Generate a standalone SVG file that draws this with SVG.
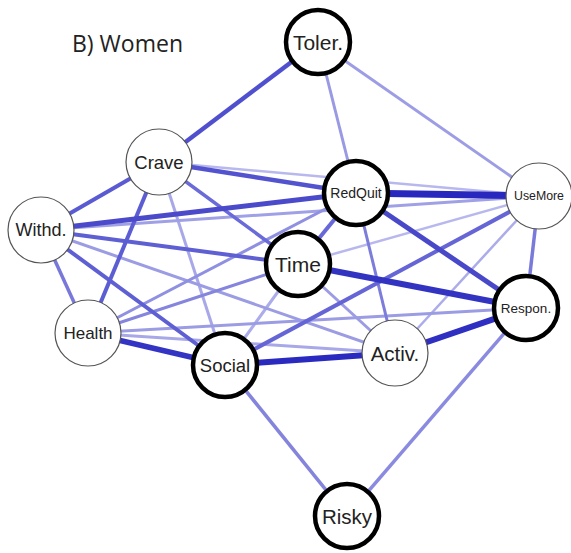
<svg xmlns="http://www.w3.org/2000/svg" width="571" height="553" viewBox="0 0 571 553">
<style>
.e{fill:none;stroke-linecap:butt}
.n1{fill:#fff;stroke:#000;stroke-width:4.5}
.n2{fill:#fff;stroke:#555;stroke-width:1.2}
.t{font-family:"Liberation Sans",Arial,sans-serif;fill:#222;text-anchor:middle;dominant-baseline:central}
.title{font-family:"Open Sans","Liberation Sans",sans-serif;font-size:23px;fill:#222}
</style>
<rect width="571" height="553" fill="#fff"/>
<text class="title" x="72" y="52">B) Women</text>
<g id="connectors">
<line class="e" x1="159" y1="162" x2="539" y2="196" stroke="#b8b8ee" stroke-width="2.5"/>
<line class="e" x1="298" y1="264" x2="539" y2="196" stroke="#b8b8ee" stroke-width="2.5"/>
<line class="e" x1="539" y1="196" x2="395" y2="353" stroke="#acacea" stroke-width="2.5"/>
<line class="e" x1="225" y1="365" x2="298" y2="264" stroke="#acacea" stroke-width="3"/>
<line class="e" x1="88" y1="333" x2="395" y2="353" stroke="#a8a8e8" stroke-width="3"/>
<line class="e" x1="159" y1="162" x2="225" y2="365" stroke="#a8a8e8" stroke-width="3"/>
<line class="e" x1="41" y1="230" x2="539" y2="196" stroke="#a0a0e6" stroke-width="3"/>
<line class="e" x1="41" y1="230" x2="395" y2="353" stroke="#9c9ce4" stroke-width="3"/>
<line class="e" x1="88" y1="333" x2="526" y2="308" stroke="#9c9ce4" stroke-width="3"/>
<line class="e" x1="298" y1="264" x2="395" y2="353" stroke="#9c9ce4" stroke-width="3"/>
<line class="e" x1="318" y1="42" x2="356" y2="193" stroke="#9a9ae4" stroke-width="3"/>
<line class="e" x1="318" y1="42" x2="539" y2="196" stroke="#9d9de5" stroke-width="3"/>
<line class="e" x1="88" y1="333" x2="356" y2="193" stroke="#9090e2" stroke-width="3"/>
<line class="e" x1="88" y1="333" x2="298" y2="264" stroke="#8585de" stroke-width="3"/>
<line class="e" x1="356" y1="193" x2="395" y2="353" stroke="#7c7cdb" stroke-width="3"/>
<line class="e" x1="225" y1="365" x2="347" y2="516" stroke="#8484dd" stroke-width="3.5"/>
<line class="e" x1="526" y1="308" x2="347" y2="516" stroke="#8a8ae0" stroke-width="3.5"/>
<line class="e" x1="539" y1="196" x2="526" y2="308" stroke="#7a7ada" stroke-width="3.5"/>
<line class="e" x1="41" y1="230" x2="88" y2="333" stroke="#7878da" stroke-width="3.5"/>
<line class="e" x1="159" y1="162" x2="298" y2="264" stroke="#6a6ad8" stroke-width="3.5"/>
<line class="e" x1="298" y1="264" x2="356" y2="193" stroke="#6868d8" stroke-width="4"/>
<line class="e" x1="225" y1="365" x2="539" y2="196" stroke="#6565d6" stroke-width="4"/>
<line class="e" x1="41" y1="230" x2="298" y2="264" stroke="#5f5fd4" stroke-width="4"/>
<line class="e" x1="41" y1="230" x2="225" y2="365" stroke="#5f5fd4" stroke-width="4"/>
<line class="e" x1="159" y1="162" x2="88" y2="333" stroke="#5c5cd3" stroke-width="4"/>
<line class="e" x1="159" y1="162" x2="41" y2="230" stroke="#5a5ad3" stroke-width="4"/>
<line class="e" x1="318" y1="42" x2="159" y2="162" stroke="#5050cf" stroke-width="4.5"/>
<line class="e" x1="159" y1="162" x2="356" y2="193" stroke="#5353cf" stroke-width="4.5"/>
<line class="e" x1="41" y1="230" x2="356" y2="193" stroke="#4a4acb" stroke-width="5"/>
<line class="e" x1="356" y1="193" x2="526" y2="308" stroke="#4848c8" stroke-width="5"/>
<line class="e" x1="88" y1="333" x2="225" y2="365" stroke="#3434c4" stroke-width="5.5"/>
<line class="e" x1="395" y1="353" x2="526" y2="308" stroke="#2f2fc2" stroke-width="6"/>
<line class="e" x1="225" y1="365" x2="395" y2="353" stroke="#2a2ac0" stroke-width="6"/>
<line class="e" x1="298" y1="264" x2="526" y2="308" stroke="#3333c2" stroke-width="6"/>
<line class="e" x1="356" y1="193" x2="539" y2="196" stroke="#2828bf" stroke-width="7"/>
</g>
<g id="Toler"><circle class="n1" cx="318" cy="42" r="32"/><text class="t" x="318" y="42" font-size="21">Toler.</text></g>
<g id="Crave"><circle class="n2" cx="159" cy="162" r="33"/><text class="t" x="159" y="162" font-size="18.5">Crave</text></g>
<g id="Withd"><circle class="n2" cx="41" cy="230" r="33"/><text class="t" x="41" y="230" font-size="18">Withd.</text></g>
<g id="RedQuit"><circle class="n1" cx="356" cy="193" r="32"/><text class="t" x="356" y="193" font-size="14">RedQuit</text></g>
<g id="UseMore"><circle class="n2" cx="539" cy="196" r="33"/><text class="t" x="539" y="196" font-size="12.3">UseMore</text></g>
<g id="Time"><circle class="n1" cx="298" cy="264" r="32"/><text class="t" x="298" y="264" font-size="21">Time</text></g>
<g id="Health"><circle class="n2" cx="88" cy="333" r="33"/><text class="t" x="88" y="333" font-size="17">Health</text></g>
<g id="Social"><circle class="n1" cx="225" cy="365" r="32"/><text class="t" x="225" y="365" font-size="18.5">Social</text></g>
<g id="Activ"><circle class="n2" cx="395" cy="353" r="33"/><text class="t" x="395" y="353" font-size="20.5">Activ.</text></g>
<g id="Respon"><circle class="n1" cx="526" cy="308" r="32"/><text class="t" x="526" y="308" font-size="13.5">Respon.</text></g>
<g id="Risky"><circle class="n1" cx="347" cy="516" r="32"/><text class="t" x="347" y="516" font-size="20.5">Risky</text></g>
</svg>
